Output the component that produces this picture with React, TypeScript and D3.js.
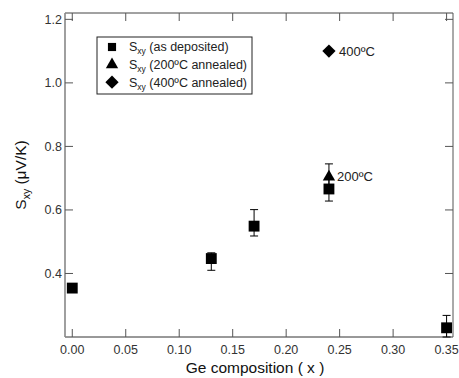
import React from "react"
import * as d3 from "d3"

// Ge composition (x) and S_xy values (μV/K)
const depX = [0.0, 0.13, 0.17, 0.24, 0.35]
const depY = [0.354, 0.447, 0.549, 0.666, 0.229]
const depLo = [0.354, 0.41, 0.518, 0.628, 0.2]
const depHi = [0.354, 0.465, 0.601, 0.7, 0.268]

const ann200X = [0.24]
const ann200Y = [0.704]
const ann200Lo = [0.67]
const ann200Hi = [0.745]

const ann400X = [0.24]
const ann400Y = [1.1]

const xTicks = [0, 0.05, 0.1, 0.15, 0.2, 0.25, 0.3, 0.35]
const yTicks = [0.4, 0.6, 0.8, 1.0, 1.2]

const legendLabels = ["(as deposited)", "(200ºC annealed)", "(400ºC annealed)"]

const W = 459
const H = 378
const margin = { top: 13, right: 6, bottom: 41, left: 65 }

const FONT = "'Liberation Sans', Arial, sans-serif"

export default function App() {
  const x = d3
    .scaleLinear()
    .domain([-0.0068, 0.356])
    .range([margin.left, W - margin.right])
  const y = d3
    .scaleLinear()
    .domain([0.2, 1.22])
    .range([H - margin.bottom, margin.top])

  const x0 = margin.left
  const x1 = W - margin.right
  const y0 = H - margin.bottom
  const y1 = margin.top
  const tick = 8

  const square = d3.symbol(d3.symbolSquare, 118)()
  const triangle = d3.symbol(d3.symbolTriangle, 66)()
  const diamond = d3.symbol(d3.symbolSquare, 88)()

  const errBar = (cx, lo, hi, key) => (
    <g key={key} stroke="#000" strokeWidth={1}>
      <line x1={x(cx)} x2={x(cx)} y1={y(lo)} y2={y(hi)} />
      <line x1={x(cx) - 4} x2={x(cx) + 4} y1={y(lo)} y2={y(lo)} />
      <line x1={x(cx) - 4} x2={x(cx) + 4} y1={y(hi)} y2={y(hi)} />
    </g>
  )

  return (
    <svg
      width={W}
      height={H}
      style={{ position: "absolute", left: 0, top: 0, background: "#fff" }}
      fontFamily={FONT}
    >
      {/* frame */}
      <line x1={x0} x2={x1} y1={y1} y2={y1} stroke="#444" />
      <line x1={x0} x2={x1} y1={y0} y2={y0} stroke="#333" />
      <line x1={x1} x2={x1} y1={y1} y2={y0} stroke="#555" />
      <line x1={x0} x2={x0} y1={y1} y2={y0} stroke="#888" strokeWidth={1.6} />

      {/* x ticks (inside, bottom and top) */}
      {xTicks.map((t, i) => (
        <g key={"xt" + i} stroke="#555">
          <line x1={x(t)} x2={x(t)} y1={y0} y2={y0 - tick} />
          <line x1={x(t)} x2={x(t)} y1={y1} y2={y1 + tick} />
        </g>
      ))}
      {xTicks.map((t, i) => (
        <text
          key={"xl" + i}
          x={x(t)}
          y={y0 + 16.5}
          textAnchor="middle"
          fontSize={12.5}
          fill="#333"
        >
          {t.toFixed(2)}
        </text>
      ))}

      {/* y ticks (inside, left and right) */}
      {yTicks.map((t, i) => (
        <g key={"yt" + i} stroke="#555">
          <line x1={x0} x2={x0 + tick} y1={y(t)} y2={y(t)} />
          <line x1={x1} x2={x1 - tick} y1={y(t)} y2={y(t)} />
        </g>
      ))}
      {yTicks.map((t, i) => (
        <text
          key={"yl" + i}
          x={x0 - 3}
          y={y(t)}
          dy="0.35em"
          textAnchor="end"
          fontSize={12.5}
          fill="#333"
        >
          {t.toFixed(1)}
        </text>
      ))}

      {/* axis titles */}
      <text x={255} y={373} textAnchor="middle" fontSize={15.5} fill="#111">
        Ge composition ( x )
      </text>
      <text
        transform={`translate(26,${(y0 + y1) / 2}) rotate(-90)`}
        textAnchor="middle"
        fontSize={15.5}
        fill="#111"
      >
        S<tspan fontSize={10.5} dy={4}>xy</tspan>
        <tspan dy={-4}> (μV/K)</tspan>
      </text>

      {/* error bars */}
      {depX.map((d, i) =>
        depLo[i] !== depHi[i] ? errBar(d, depLo[i], depHi[i], "de" + i) : null
      )}
      {ann200X.map((d, i) => errBar(d, ann200Lo[i], ann200Hi[i], "ae" + i))}

      {/* markers */}
      {depX.map((d, i) => (
        <path
          key={"dp" + i}
          d={square}
          transform={`translate(${x(d)},${y(depY[i])})`}
          fill="#000"
        />
      ))}
      {ann200X.map((d, i) => (
        <path
          key={"a2" + i}
          d={triangle}
          transform={`translate(${x(d)},${y(ann200Y[i])})`}
          fill="#000"
        />
      ))}
      {ann400X.map((d, i) => (
        <path
          key={"a4" + i}
          d={diamond}
          transform={`translate(${x(d)},${y(ann400Y[i])}) rotate(45)`}
          fill="#000"
        />
      ))}

      {/* point annotations */}
      <text
        x={x(ann400X[0]) + 10}
        y={y(ann400Y[0])}
        dy="0.35em"
        fontSize={13}
        fill="#222"
      >
        400ºC
      </text>
      <text
        x={x(ann200X[0]) + 8}
        y={y(ann200Y[0])}
        dy="0.35em"
        fontSize={13}
        fill="#222"
      >
        200ºC
      </text>

      {/* legend */}
      <g transform="translate(97,37)">
        <rect width={155} height={57} fill="#fff" stroke="#222" />
        {legendLabels.map((lab, i) => {
          const cy = 10 + i * 17.6
          const shape = i === 0 ? square : i === 1 ? triangle : diamond
          const scale = i === 0 ? 0.75 : 1
          return (
            <g key={"lg" + i}>
              <path
                d={shape}
                transform={`translate(15,${cy}) ${i === 2 ? "rotate(45)" : ""} scale(${scale})`}
                fill="#000"
              />
              <text x={32} y={cy} dy="0.35em" fontSize={12.5} fill="#222">
                S<tspan fontSize={8.5} dy={3}>xy</tspan>
                <tspan dy={-3}> {lab}</tspan>
              </text>
            </g>
          )
        })}
      </g>
    </svg>
  )
}
